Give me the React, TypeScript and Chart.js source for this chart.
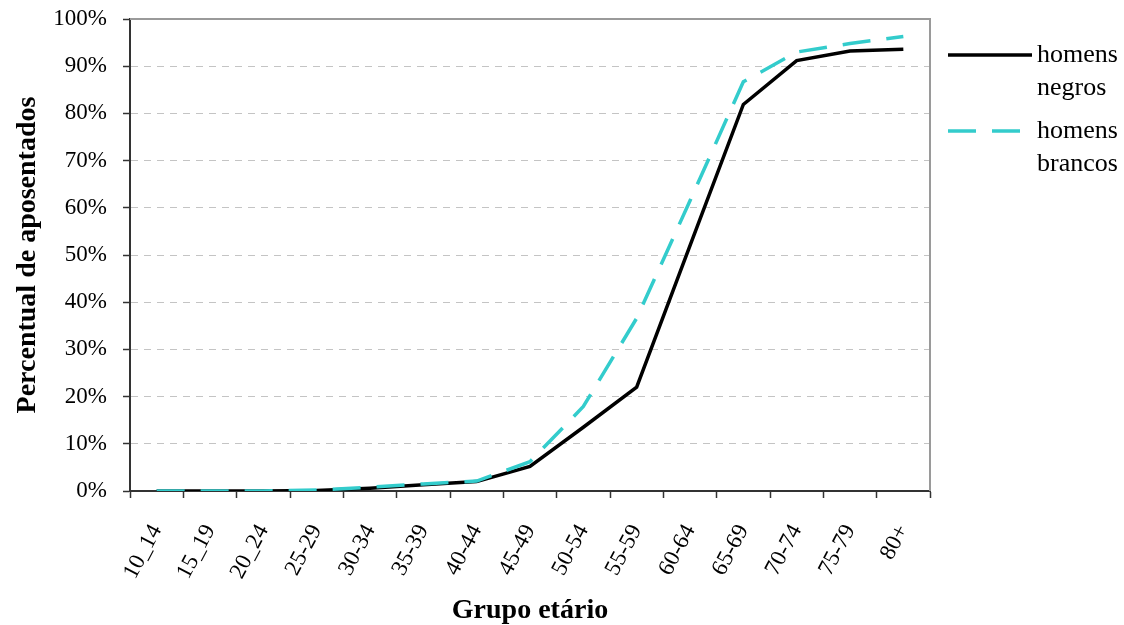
import { useEffect, useRef } from "react";
import { Chart, registerables } from "chart.js";

Chart.register(...registerables);

// Age groups on the horizontal axis
const ageGroups = [
  "10_14", "15_19", "20_24", "25-29", "30-34", "35-39", "40-44", "45-49",
  "50-54", "55-59", "60-64", "65-69", "70-74", "75-79", "80+",
];

// Share of retired men (%) by age group
const blackMen = [0, 0, 0, 0.1, 0.6, 1.3, 2.0, 5.2, 13.5, 22.0, 52.0, 81.9, 91.2, 93.2, 93.6];
const whiteMen = [0, 0, 0, 0.2, 0.8, 1.5, 2.1, 6.2, 17.9, 36.6, 61.5, 86.7, 93.0, 94.8, 96.3];

const seriesLabels = ["homens negros", "homens brancos"];
const yTickValues = [0, 10, 20, 30, 40, 50, 60, 70, 80, 90, 100];

const FONT = "'Liberation Serif', 'Times New Roman', serif";

// Grey frame on the top and right edges of the plot area
const framePlugin = {
  id: "plotFrame",
  beforeDatasetsDraw(chart: any) {
    const { ctx, chartArea: a } = chart;
    ctx.save();
    ctx.strokeStyle = "#9a9a9a";
    ctx.lineWidth = 2;
    ctx.setLineDash([]);
    ctx.beginPath();
    ctx.moveTo(a.left, a.top);
    ctx.lineTo(a.right, a.top);
    ctx.lineTo(a.right, a.bottom);
    ctx.stroke();
    ctx.restore();
  },
};

// Legend to the right of the plot, with labels broken over two lines
const sideLegendPlugin = {
  id: "sideLegend",
  afterDraw(chart: any) {
    const { ctx, chartArea: a } = chart;
    const x0 = a.right + 18;
    const sampleLen = 84;
    const textX = x0 + sampleLen + 5;
    const lineGap = 33;
    const rowStep = 76;
    ctx.save();
    chart.data.datasets.forEach((ds: any, i: number) => {
      const y = a.top + 36 + i * rowStep;
      ctx.strokeStyle = ds.borderColor;
      ctx.lineWidth = ds.borderWidth;
      ctx.setLineDash(ds.borderDash || []);
      ctx.lineCap = "butt";
      ctx.beginPath();
      ctx.moveTo(x0, y);
      ctx.lineTo(x0 + sampleLen, y);
      ctx.stroke();
      ctx.setLineDash([]);
      ctx.fillStyle = "#000";
      ctx.font = `26px ${FONT}`;
      ctx.textAlign = "left";
      ctx.textBaseline = "middle";
      String(ds.label)
        .split(" ")
        .forEach((word: string, j: number) => {
          ctx.fillText(word, textX, y + j * lineGap);
        });
    });
    ctx.restore();
  },
};

export default function App() {
  const canvasRef = useRef<HTMLCanvasElement | null>(null);

  useEffect(() => {
    const canvas = canvasRef.current;
    if (!canvas) return;
    const chart = new Chart(canvas, {
      type: "line",
      data: {
        labels: ageGroups,
        datasets: [
          {
            label: seriesLabels[0],
            data: blackMen,
            borderColor: "#000000",
            borderWidth: 3.5,
            pointRadius: 0,
            tension: 0,
            fill: false,
            order: 1,
          },
          {
            label: seriesLabels[1],
            data: whiteMen,
            borderColor: "#33CCCC",
            borderWidth: 3.5,
            borderDash: [28, 16],
            pointRadius: 0,
            tension: 0,
            fill: false,
            order: 0,
          },
        ],
      },
      options: {
        responsive: false,
        animation: false,
        devicePixelRatio: 1,
        layout: { padding: { top: 19, right: 194, left: 0, bottom: 0 } },
        plugins: {
          legend: { display: false },
          tooltip: { enabled: false },
        },
        scales: {
          x: {
            type: "category",
            offset: true,
            grid: {
              offset: true,
              drawOnChartArea: false,
              tickLength: 7,
              tickColor: "#333",
              tickWidth: 1.5,
            },
            border: { display: true, color: "#333", width: 2 },
            ticks: {
              color: "#000",
              font: { family: FONT, size: 23 },
              minRotation: 62,
              maxRotation: 62,
              padding: 22,
              autoSkip: false,
            },
            title: {
              display: true,
              text: "Grupo etário",
              color: "#000",
              font: { family: FONT, size: 28, weight: "bold", lineHeight: 1 },
              padding: { top: 0, bottom: 0 },
            },
            afterFit: (scale: any) => {
              scale.height = 134;
              scale.paddingTop = 0;
              scale.paddingBottom = 0;
            },
          },
          y: {
            min: 0,
            max: 100,
            afterBuildTicks: (scale: any) => {
              scale.ticks = yTickValues.map((v) => ({ value: v }));
            },
            grid: {
              color: (c: any) =>
                c.tick && (c.tick.value === 0 || c.tick.value === 100)
                  ? "rgba(0,0,0,0)"
                  : "#c4c4c4",
              lineWidth: 1,
              tickBorderDash: [],
              tickLength: 7,
              tickColor: "#333",
              tickWidth: 1.5,
            },
            border: { display: true, color: "#333", width: 2, dash: [7, 6] },
            ticks: {
              color: "#000",
              font: { family: FONT, size: 23 },
              padding: 16,
              callback: (v: any) => `${v}%`,
            },
            title: {
              display: true,
              text: "Percentual de aposentados",
              color: "#000",
              font: { family: FONT, size: 28, weight: "bold", lineHeight: 1 },
              padding: { top: 14, bottom: 0 },
            },
            afterFit: (scale: any) => {
              scale.width = 130;
              scale.paddingTop = 0;
              scale.paddingBottom = 0;
            },
          },
        },
      },
      plugins: [framePlugin, sideLegendPlugin],
    });
    return () => chart.destroy();
  }, []);

  return (
    <div style={{ position: "absolute", left: 0, top: 0, width: 1124, height: 625, background: "#fff" }}>
      <canvas ref={canvasRef} width={1124} height={625} />
    </div>
  );
}
